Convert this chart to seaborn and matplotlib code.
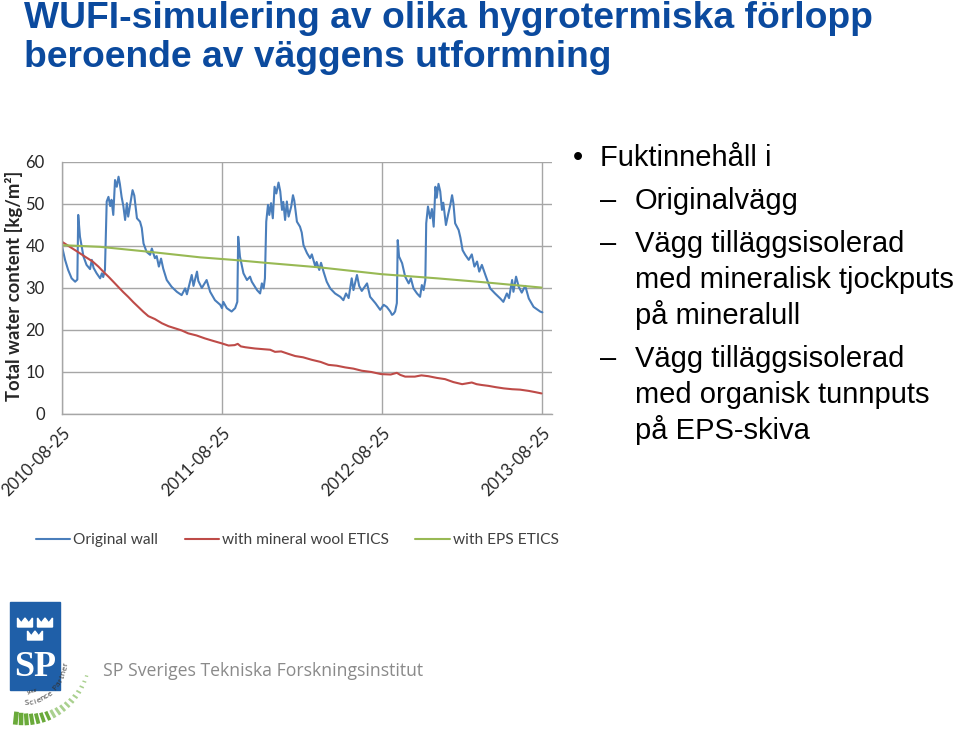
import numpy as np
import pandas as pd
import matplotlib
matplotlib.use("Agg")
import matplotlib.pyplot as plt
import matplotlib.dates as mdates
from matplotlib.patches import Rectangle, Polygon
import seaborn as sns

# ---- data (day offset from 2010-08-25, total water content kg/m2) ----
START = pd.Timestamp("2010-08-25")

orig_days = [0, 2, 7, 14, 22, 30, 35, 37, 41, 49, 56, 64, 68, 72, 79, 87, 91, 94, 98,
             102, 106, 110, 113, 117, 121, 125, 129, 132, 136, 140, 144, 148, 151, 158,
             161, 165, 171, 178, 182, 186, 193, 201, 205, 212, 216, 221, 226, 231, 239,
             250, 262, 273, 281, 285, 296, 300, 308, 311, 319, 330, 338, 349, 361, 365,
             368, 376, 387, 395, 400, 402, 406, 414, 422, 429, 433, 445, 452, 456, 460,
             463, 466, 470, 473, 477, 481, 485, 489, 494, 498, 502, 505, 509, 513, 517,
             523, 527, 530, 536, 543, 547, 551, 559, 566, 570, 578, 581, 587, 591, 597,
             604, 612, 623, 635, 642, 648, 654, 661, 665, 673, 678, 684, 696, 703, 715,
             726, 734, 741, 749, 753, 756, 760, 764, 766, 769, 776, 783, 791, 796, 802,
             810, 817, 821, 825, 829, 831, 835, 840, 844, 848, 852, 855, 859, 863, 867,
             870, 876, 881, 886, 890, 893, 897, 905, 909, 914, 920, 928, 935, 941, 947,
             952, 958, 966, 977, 988, 1000, 1007, 1015, 1020, 1027, 1030, 1036, 1042,
             1049, 1057, 1065, 1076, 1091, 1096]
orig_vals = [40.0, 39.0, 36.7, 34.3, 32.3, 31.5, 32.0, 47.4, 42.2, 37.5, 35.5, 34.5, 36.7,
             34.8, 33.5, 32.3, 33.5, 32.6, 34.3, 50.6, 51.7, 49.5, 51.0, 47.4, 55.7, 54.1,
             56.5, 54.8, 51.7, 49.5, 46.2, 50.2, 47.0, 51.3, 53.3, 52.0, 46.6, 45.8, 44.3,
             40.6, 38.6, 37.9, 39.4, 37.1, 37.6, 35.1, 37.0, 34.6, 31.9, 30.3, 29.1, 28.3,
             29.9, 28.5, 33.1, 30.5, 33.9, 31.7, 30.0, 31.9, 29.1, 27.1, 26.0, 25.2, 26.7,
             25.2, 24.4, 25.2, 26.7, 42.2, 37.5, 33.5, 31.9, 32.7, 31.5, 29.5, 28.7, 31.1,
             29.9, 32.3, 45.8, 49.8, 47.4, 50.2, 46.6, 54.1, 52.5, 55.1, 53.0, 48.6, 50.5,
             46.2, 50.6, 47.0, 49.4, 52.1, 50.8, 45.8, 44.6, 43.2, 40.2, 38.3, 37.1, 38.0,
             35.1, 36.2, 34.3, 36.0, 33.8, 31.5, 29.9, 28.7, 27.9, 27.1, 28.7, 27.6, 32.3,
             29.5, 33.1, 30.5, 29.3, 31.1, 27.9, 26.4, 24.8, 26.0, 25.5, 24.4, 23.6, 23.8,
             24.4, 26.4, 41.4, 37.5, 35.9, 32.7, 31.1, 32.3, 29.9, 28.7, 27.9, 30.7, 29.5,
             31.9, 45.4, 49.4, 46.6, 48.8, 44.6, 54.1, 51.5, 54.8, 53.0, 48.6, 50.3, 45.0,
             47.5, 49.8, 52.1, 50.2, 45.4, 43.8, 42.0, 39.0, 37.9, 36.7, 38.0, 35.1, 36.3,
             33.9, 35.5, 33.1, 29.9, 28.7, 27.5, 26.7, 28.7, 27.6, 31.9, 29.1, 32.7, 30.3,
             28.9, 30.5, 27.5, 25.5, 24.4, 24.2]

wool_days = [0, 15, 30, 52, 70, 83, 95, 106, 118, 128, 140, 151, 163, 174, 186, 197, 212,
             228, 243, 258, 273, 288, 307, 326, 345, 365, 380, 394, 401, 408, 418, 440,
             463, 475, 486, 500, 517, 532, 550, 570, 590, 608, 627, 646, 665, 684, 706,
             728, 750, 764, 772, 783, 805, 820, 836, 855, 874, 893, 913, 935, 946, 958,
             973, 989, 1008, 1027, 1045, 1065, 1080, 1094]
wool_vals = [41.0, 40.0, 39.0, 37.5, 36.3, 35.1, 33.8, 32.7, 31.4, 30.3, 29.0, 27.9, 26.6,
             25.5, 24.3, 23.3, 22.6, 21.6, 20.9, 20.4, 19.9, 19.2, 18.7, 18.0, 17.4, 16.8,
             16.3, 16.4, 16.7, 16.1, 15.9, 15.6, 15.4, 15.3, 14.8, 14.9, 14.3, 13.8, 13.5,
             12.9, 12.4, 11.7, 11.5, 11.1, 10.8, 10.3, 10.0, 9.5, 9.4, 9.8, 9.3, 8.9, 8.9,
             9.2, 9.0, 8.6, 8.3, 7.6, 7.1, 7.5, 7.1, 6.9, 6.7, 6.4, 6.1, 5.9, 5.8, 5.5, 5.2,
             4.9]

eps_days = [0, 87, 201, 315, 390, 475, 589, 728, 856, 970, 1094]
eps_vals = [40.2, 39.8, 38.6, 37.3, 36.7, 35.9, 34.9, 33.3, 32.3, 31.3, 30.1]

SERIES = ["Original wall", "with mineral wool ETICS", "with EPS ETICS"]
COLORS = {"Original wall": "#4a7ebb",
          "with mineral wool ETICS": "#be4b48",
          "with EPS ETICS": "#98b954"}

bullet_head = "Fuktinnehåll i"
sub_items = [["Originalvägg"],
             ["Vägg tilläggsisolerad", "med mineralisk tjockputs", "på mineralull"],
             ["Vägg tilläggsisolerad", "med organisk tunnputs", "på EPS-skiva"]]

frames = []
for name, d, v in [(SERIES[0], orig_days, orig_vals),
                   (SERIES[1], wool_days, wool_vals),
                   (SERIES[2], eps_days, eps_vals)]:
    frames.append(pd.DataFrame({"date": START + pd.to_timedelta(d, unit="D"),
                                "value": v, "series": name}))
df = pd.concat(frames, ignore_index=True)

# ---- style ----
sns.set_theme(style="white")
plt.rcParams["font.family"] = ["Liberation Sans", "DejaVu Sans"]

W, H = 960, 732
fig = plt.figure(figsize=(W / 100, H / 100), dpi=100)
fig.patch.set_facecolor("white")


def fx(px):
    return px / W


def fy(py):
    return 1 - py / H


# ---- title ----
title_kw = dict(fontsize=26.8, fontweight="bold", color="#0b4a9e")
fig.text(fx(24), fy(28), "WUFI-simulering av olika hygrotermiska förlopp", va="baseline", **title_kw)
fig.text(fx(24), fy(67), "beroende av väggens utformning", va="baseline", **title_kw)

# ---- chart ----
ax = fig.add_axes([fx(62), fy(414), fx(552) - fx(62), fy(162) - fy(414)])
sns.lineplot(data=df, x="date", y="value", hue="series", hue_order=SERIES,
             palette=COLORS, estimator=None, sort=False, linewidth=1.5, ax=ax)
ax.set_ylim(0, 60)
ax.set_xlim(START, START + pd.Timedelta(days=1118))
ax.set_yticks(range(0, 61, 10))
ax.xaxis.set_major_locator(mdates.YearLocator(month=8, day=25))
ax.xaxis.set_major_formatter(mdates.DateFormatter("%Y-%m-%d"))
ax.grid(True, color="#a6a6a6", linewidth=1)
ax.set_axisbelow(True)
for s in ["top", "right"]:
    ax.spines[s].set_visible(False)
for s in ["left", "bottom"]:
    ax.spines[s].set_color("#a6a6a6")
    ax.spines[s].set_linewidth(1)
chart_font = ["Lato", "DejaVu Sans"]
ax.tick_params(axis="both", direction="out", length=4.5, width=1, color="#a6a6a6",
               labelsize=12, labelcolor="#262626")
ax.tick_params(axis="y", pad=8)
for lab in ax.get_yticklabels() + ax.get_xticklabels():
    lab.set_family(chart_font)
for lab in ax.get_xticklabels():
    lab.set_rotation(45)
    lab.set_ha("right")
    lab.set_va("top")
    lab.set_rotation_mode("anchor")
ax.set_xlabel("")
ax.set_ylabel("")
fig.text(fx(14), fy(286), "Total water content [kg/m²]", rotation=90, ha="center",
         va="center", fontsize=13.3, fontweight="bold", color="#262626", family=chart_font)

handles, labels = ax.get_legend_handles_labels()
ax.get_legend().remove()
fig.legend(handles, labels, loc="center left", bbox_to_anchor=(fx(36), fy(540)),
           ncol=3, frameon=False, borderpad=0, borderaxespad=0, handlelength=2.2,
           handletextpad=0.2, columnspacing=1.7,
           prop={"family": chart_font, "size": 11.2}, labelcolor="#404040")

# ---- bullet text ----
body_kw = dict(fontsize=21, color="black", va="baseline")
fig.text(fx(573), fy(166), "•", **body_kw)
fig.text(fx(600), fy(166), bullet_head, **body_kw)
y = 209
for item in sub_items:
    fig.text(fx(600), fy(y), "–", **body_kw)
    for i, line in enumerate(item):
        fig.text(fx(635), fy(y + i * 36), line, **body_kw)
    y += (len(item) - 1) * 36 + 43

# ---- logo (coordinates in px from the bottom-left of the logo box) ----
lg = fig.add_axes([0, 0, fx(110), 137 / H])
lg.set_xlim(0, 110)
lg.set_ylim(0, 137)
lg.axis("off")
lg.add_patch(Rectangle((10, 42), 50, 88, color="#1f5fa8"))


def crown(cx, cy, w=15, h=9):
    pts = [(cx - w / 2, cy), (cx + w / 2, cy), (cx + w / 2, cy + h), (cx + w / 4, cy + h * 0.45),
           (cx, cy + h), (cx - w / 4, cy + h * 0.45), (cx - w / 2, cy + h)]
    lg.add_patch(Polygon(pts, closed=True, color="white"))


crown(25, 105)
crown(45, 105)
crown(35, 92)
lg.text(35, 65, "SP", color="white", fontsize=26, fontweight="bold", ha="center",
        va="center", family=["Liberation Serif", "DejaVu Serif"])
c = np.array([22.0, 72.0])
txt = "Science Partner"
angs = np.linspace(-84, -6, len(txt))
for ch, a in zip(txt, angs):
    r = np.deg2rad(a)
    lg.text(c[0] + 44 * np.cos(r), c[1] + 44 * np.sin(r), ch, rotation=a + 90,
            ha="center", va="center", fontsize=6, color="#333333", family="Open Sans")
lg.text(33, 41, "your", fontsize=4, rotation=15, color="#333333", ha="center", va="center")
for k, a in enumerate(np.linspace(-96, -14, 17)):
    r = np.deg2rad(a)
    r0, r1 = 52 + k * 0.8, 65 + k * 0.2
    lg.plot([c[0] + r0 * np.cos(r), c[0] + r1 * np.cos(r)],
            [c[1] + r0 * np.sin(r), c[1] + r1 * np.sin(r)],
            color="#6aaa3a" if k < 7 else "#a9d08e", lw=max(3.4 - k * 0.16, 0.9),
            solid_capstyle="butt")

fig.text(fx(103), fy(676), "SP Sveriges Tekniska Forskningsinstitut", fontsize=12.7,
         color="#8a8a8a", va="baseline", family=["Open Sans", "DejaVu Sans"])

fig.savefig("out.png", dpi=100)
